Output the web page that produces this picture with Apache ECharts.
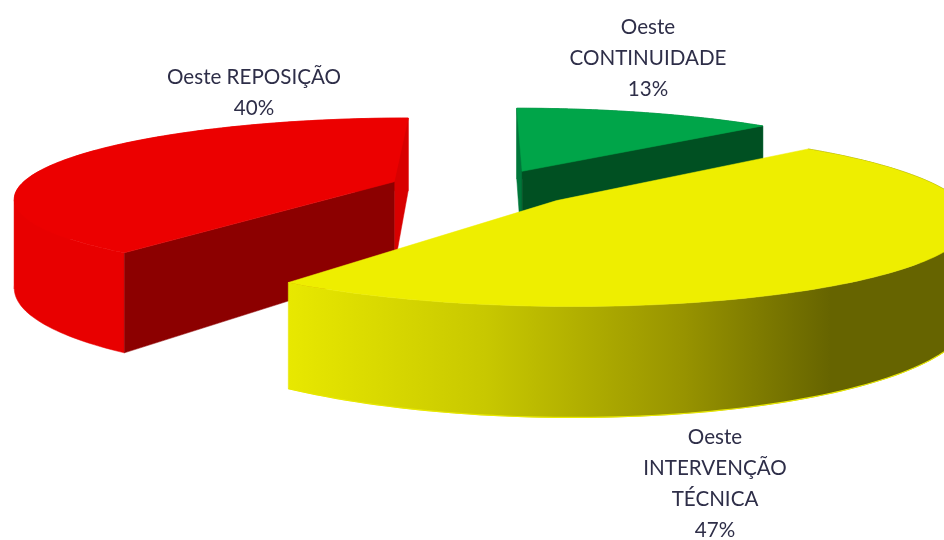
<!DOCTYPE html>
<html>
<head>
<meta charset="utf-8">
<style>html,body{margin:0;padding:0;background:#fff}#c{width:944px;height:540px}</style>
<script src="https://cdn.jsdelivr.net/npm/echarts@6/dist/echarts.min.js"></script>
</head>
<body>
<div id="c"></div>
<script>
// Data (painter's order: back slices first)
const sliceNames = ['Oeste\nCONTINUIDADE', 'Oeste REPOSIÇÃO', 'Oeste\nINTERVENÇÃO\nTÉCNICA'];
const sliceValues = [13, 40, 47];
// Order of the slices going clockwise from 12 o'clock
const clockOrder = [0, 2, 1];

const topColors = ['#00a549', '#ec0000', '#eeee00'];
const wallColors = ['#007a3a', '#e80000', null];
const startFaceColors = ['#00763a', '#8c0000', null];
const endFaceColors = ['#005022', '#d80000', null];
const faceFirst = ['start', 'end', 'start'];
const labelCenters = [[648, 58], [254, 93], [715, 484]];
const explodes = [92, 99, 90];
const radii = [392, 376, 392];

// Perspective pie model
const cx = 487, horizonY = -242, T = 430, D = 2090, H = 87;
const project = (X, Y, Z) => {
  const w = 1 + Y / D;
  return [cx + X / w, horizonY + T / w + Z / w];
};
const total = sliceValues.reduce((a, b) => a + b, 0);
const angles = {};
let acc = 0;
clockOrder.forEach(i => {
  const a0 = acc / total * 2 * Math.PI;
  acc += sliceValues[i];
  angles[i] = [a0, acc / total * 2 * Math.PI];
});

function renderItem(params, api) {
  const i = params.dataIndex;
  const R = radii[i];
  const [a0, a1] = angles[i];
  const mid = (a0 + a1) / 2;
  const ox = explodes[i] * Math.sin(mid), oy = explodes[i] * Math.cos(mid);
  const rim = (a, z) => project(ox + R * Math.sin(a), oy + R * Math.cos(a), z);
  const apexTop = project(ox, oy, 0), apexBottom = project(ox, oy, H);
  const steps = 120;
  const arcTop = [], arcBottom = [];
  for (let k = 0; k <= steps; k++) {
    const a = a0 + (a1 - a0) * k / steps;
    arcTop.push(rim(a, 0));
    arcBottom.push(rim(a, H));
  }
  const poly = (points, fill) => ({
    type: 'polygon',
    shape: { points },
    style: { fill, stroke: fill, lineWidth: 0.5 }
  });
  const gradient = {
    type: 'linear', x: 288, y: 0, x2: 944, y2: 0, global: true,
    colorStops: [
      { offset: 0, color: '#e8e800' },
      { offset: 0.3, color: '#c8c800' },
      { offset: 0.6, color: '#989400' },
      { offset: 0.828, color: '#666400' },
      { offset: 1, color: '#666400' }
    ]
  };
  const wallFill = wallColors[i] || gradient;

  // Split the outer wall at the silhouette so each part is a simple polygon
  const parts = [];
  let from = 0, dir = Math.sign(arcTop[1][0] - arcTop[0][0]);
  for (let k = 1; k < steps; k++) {
    const d = Math.sign(arcTop[k + 1][0] - arcTop[k][0]);
    if (d !== dir) { parts.push([from, k]); from = k; dir = d; }
  }
  parts.push([from, steps]);
  const meanY = p => (arcTop[p[0]][1] + arcTop[p[1]][1]) / 2;
  parts.sort((p, q) => meanY(p) - meanY(q));

  const children = parts.map(p => poly(
    arcTop.slice(p[0], p[1] + 1).concat(arcBottom.slice(p[0], p[1] + 1).reverse()),
    wallFill
  ));
  if (!wallColors[i]) {
    const front = parts[parts.length - 1];
    children.push({
      type: 'polyline',
      shape: { points: arcBottom.slice(front[0], front[1] + 1) },
      style: { fill: null, stroke: '#e8e800', lineWidth: 1.2 }
    });
  }
  if (startFaceColors[i]) {
    const startFace = poly([apexTop, arcTop[0], arcBottom[0], apexBottom], startFaceColors[i]);
    const endFace = poly([apexTop, arcTop[steps], arcBottom[steps], apexBottom], endFaceColors[i]);
    if (faceFirst[i] === 'start') children.push(startFace, endFace);
    else children.push(endFace, startFace);
  }
  children.push(poly([apexTop].concat(arcTop), topColors[i]));
  children.push({
    type: 'text',
    style: {
      text: sliceNames[i] + '\n' + api.value(0) + '%',
      x: labelCenters[i][0], y: labelCenters[i][1],
      align: 'center', verticalAlign: 'middle',
      fontFamily: 'Lato', fontSize: 20.6, lineHeight: 31, fill: '#2e2e48'
    }
  });
  return { type: 'group', children };
}

const chart = echarts.init(document.getElementById('c'), null, { renderer: 'canvas' });
chart.setOption({
  animation: false,
  backgroundColor: '#ffffff',
  series: [{
    type: 'custom',
    coordinateSystem: 'none',
    renderItem,
    clip: false,
    silent: true,
    data: sliceValues.map((v, i) => ({ name: sliceNames[i], value: [v] }))
  }]
});
</script>
</body>
</html>
